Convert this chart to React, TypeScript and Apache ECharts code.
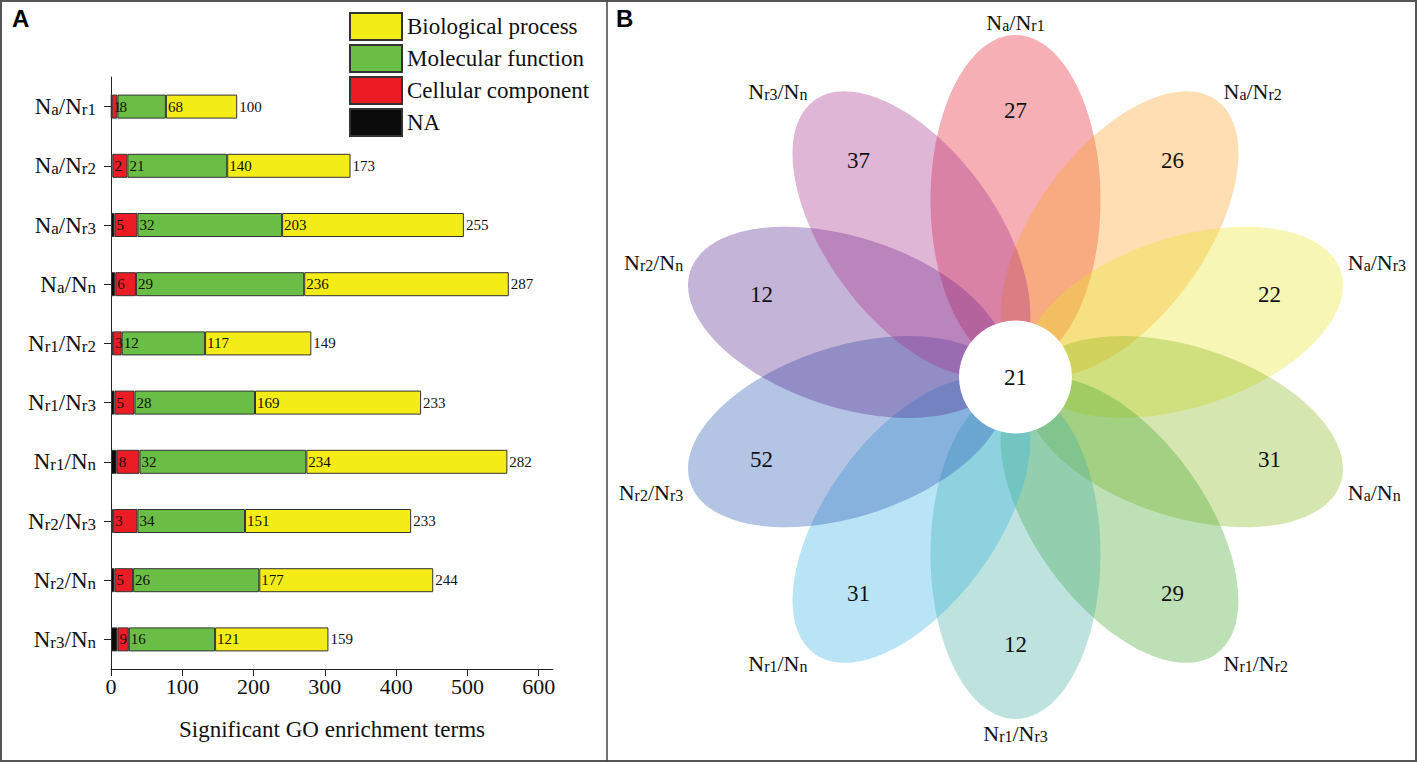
import React, { useEffect, useRef } from 'react';
import * as echarts from 'echarts';

// ---------- Panel A data ----------
const categories = ['Na/Nr1', 'Na/Nr2', 'Na/Nr3', 'Na/Nn', 'Nr1/Nr2', 'Nr1/Nr3', 'Nr1/Nn', 'Nr2/Nr3', 'Nr2/Nn', 'Nr3/Nn'];
const naValues = [1, 2, 5, 6, 3, 5, 8, 3, 5, 9];
const ccValues = [8, 21, 32, 29, 12, 28, 32, 34, 26, 16];
const mfValues = [68, 140, 203, 236, 117, 169, 234, 151, 177, 121];
const bpValues = [100, 173, 255, 287, 149, 233, 282, 233, 244, 159];
const xTickValues = [0, 100, 200, 300, 400, 500, 600];
const legendOrder = ['Biological process', 'Molecular function', 'Cellular component', 'NA'];
const xAxisTitle = 'Significant GO enrichment terms';

// ---------- Panel B data ----------
const petalNames = ['Na/Nr1', 'Na/Nr2', 'Na/Nr3', 'Na/Nn', 'Nr1/Nr2', 'Nr1/Nr3', 'Nr1/Nn', 'Nr2/Nr3', 'Nr2/Nn', 'Nr3/Nn'];
const petalCounts = [27, 26, 22, 31, 29, 12, 31, 52, 12, 37];
const coreCount = 21;
const petalColors = ['#e51a29', '#fca123', '#ebe529', '#8ab81d', '#45a631', '#45afa1', '#37b2e2', '#2956b2', '#56298f', '#a62e8a'];

const SERIF = 'Liberation Serif';
const SANS = 'Liberation Sans';
const INK = '#111';

function richName(s: string): string {
  return s
    .split('/')
    .map((part) => `{b|N}{s|${part.slice(1)}}`)
    .join('{b|/}');
}

function serifRich(size: number) {
  return { t: { fontSize: size, fontFamily: SERIF, color: INK, lineHeight: size } };
}

function buildOption() {
  const segStyle = (color: string) => ({ color, borderColor: '#333', borderWidth: 1 });
  const label = {
    show: true,
    position: 'right' as const,
    distance: 2,
    formatter: (p: any) => `{t|${p.value}}`,
    rich: serifRich(15),
  };
  const seriesDefs = [
    { name: 'NA', data: naValues, color: '#0b0b0b' },
    { name: 'Cellular component', data: ccValues, color: '#ec1c24' },
    { name: 'Molecular function', data: mfValues, color: '#6abd45' },
    { name: 'Biological process', data: bpValues, color: '#f4ec17' },
  ];

  const graphics: any[] = [];

  // frame
  graphics.push({
    type: 'rect',
    silent: true,
    shape: { x: 1, y: 1, width: 1415, height: 760 },
    style: { fill: 'none', stroke: '#555', lineWidth: 2 },
    z: 10,
  });
  graphics.push({
    type: 'line',
    silent: true,
    shape: { x1: 607, y1: 0, x2: 607, y2: 762 },
    style: { stroke: '#444', lineWidth: 1.5 },
    z: 10,
  });
  graphics.push({
    type: 'text',
    x: 12,
    y: 18.5,
    style: { text: 'A', fontSize: 24, fontWeight: 'bold', fontFamily: SANS, fill: '#000', align: 'left', verticalAlign: 'middle' },
  });
  graphics.push({
    type: 'text',
    x: 616,
    y: 18.5,
    style: { text: 'B', fontSize: 24, fontWeight: 'bold', fontFamily: SANS, fill: '#000', align: 'left', verticalAlign: 'middle' },
  });

  // flower
  const cx = 1015.5;
  const cy = 377;
  const dist = 177;
  const semiMajor = 165;
  const semiMinor = 85;
  const n = petalNames.length;
  const labelRich = {
    b: { fontSize: 22, fontFamily: SERIF, fill: INK, lineHeight: 22, verticalAlign: 'bottom' },
    s: { fontSize: 16, fontFamily: SERIF, fill: INK, lineHeight: 16, verticalAlign: 'bottom' },
  };
  petalNames.forEach((name, i) => {
    const th = (i * 2 * Math.PI) / n;
    const ux = Math.sin(th);
    const uy = -Math.cos(th);
    graphics.push({
      type: 'ellipse',
      silent: true,
      x: cx + dist * ux,
      y: cy + dist * uy,
      rotation: -th,
      shape: { cx: 0, cy: 0, rx: semiMinor, ry: semiMajor },
      style: { fill: petalColors[i], opacity: 0.35 },
      z: 1,
    });
  });
  petalNames.forEach((name, i) => {
    const th = (i * 2 * Math.PI) / n;
    const ux = Math.sin(th);
    const uy = -Math.cos(th);
    graphics.push({
      type: 'text',
      silent: true,
      x: cx + 267 * ux,
      y: cy + 267 * uy,
      style: { text: String(petalCounts[i]), fontSize: 23, fontFamily: SERIF, fill: INK, align: 'center', verticalAlign: 'middle' },
      z: 3,
    });
    // petal name placed just beyond the petal tip
    const tipX = cx + (dist + semiMajor) * ux;
    const tipY = cy + (dist + semiMajor) * uy;
    let lx = tipX;
    let ly = tipY;
    let align = 'center';
    if (Math.abs(ux) < 0.2) {
      ly = tipY + (uy < 0 ? -12.5 : 14.5);
    } else {
      align = ux > 0 ? 'left' : 'right';
      lx = tipX + (ux > 0 ? 7 : -7);
      ly = tipY + (uy < 0 ? -8.5 : 10);
    }
    graphics.push({
      type: 'text',
      silent: true,
      x: lx,
      y: ly,
      style: { text: richName(name), rich: labelRich, align, verticalAlign: 'middle' },
      z: 3,
    });
  });
  graphics.push({
    type: 'circle',
    silent: true,
    shape: { cx, cy, r: 56.5 },
    style: { fill: '#fff' },
    z: 2,
  });
  graphics.push({
    type: 'text',
    silent: true,
    x: cx,
    y: cy,
    style: { text: String(coreCount), fontSize: 23, fontFamily: SERIF, fill: INK, align: 'center', verticalAlign: 'middle' },
    z: 3,
  });

  return {
    animation: false,
    backgroundColor: '#fff',
    textStyle: { fontFamily: SERIF },
    legend: {
      data: legendOrder,
      orient: 'vertical',
      left: 349,
      top: 12,
      padding: 0,
      itemWidth: 52,
      itemHeight: 27,
      itemGap: 3,
      icon: 'rect',
      formatter: (name: string) => `{t|${name}}`,
      textStyle: { fontSize: 23, fontFamily: SERIF, color: INK, rich: serifRich(23) },
      selectedMode: false,
    },
    grid: { left: 111, top: 77, width: 442, height: 592, containLabel: false },
    xAxis: {
      type: 'value',
      min: 0,
      max: 620,
      interval: 100,
      splitLine: { show: false },
      axisLine: { show: true, lineStyle: { color: '#222', width: 1 } },
      axisTick: { show: true, length: 7, lineStyle: { color: '#222' }, customValues: xTickValues },
      axisLabel: {
        margin: 6,
        customValues: xTickValues,
        formatter: (v: number) => `{t|${v}}`,
        rich: serifRich(22),
      },
      name: `{t|${xAxisTitle}}`,
      nameLocation: 'middle',
      nameGap: 49,
      nameTextStyle: { fontSize: 23, fontFamily: SERIF, color: INK, rich: serifRich(23) },
    },
    yAxis: {
      type: 'category',
      data: categories,
      inverse: true,
      axisLine: { show: true, lineStyle: { color: '#222', width: 1 } },
      axisTick: { show: true, length: 7, alignWithLabel: true, lineStyle: { color: '#222' } },
      axisLabel: {
        margin: 15,
        formatter: (v: string) => richName(v),
        rich: {
          b: { fontSize: 23, fontFamily: SERIF, color: INK, lineHeight: 23, verticalAlign: 'bottom' },
          s: { fontSize: 17, fontFamily: SERIF, color: INK, lineHeight: 17, verticalAlign: 'bottom' },
        },
      },
    },
    series: seriesDefs.map((s) => ({
      name: s.name,
      type: 'bar',
      stack: 'go',
      barWidth: 24,
      data: s.data,
      itemStyle: segStyle(s.color),
      label,
      emphasis: { disabled: true },
    })),
    graphic: { elements: graphics },
  };
}

export default function App() {
  const ref = useRef<HTMLDivElement>(null);
  useEffect(() => {
    if (!ref.current) return;
    const chart = echarts.init(ref.current, null, { renderer: 'svg' });
    chart.setOption(buildOption() as any);
    return () => chart.dispose();
  }, []);
  return (
    <div
      ref={ref}
      style={{ position: 'absolute', left: 0, top: 0, width: 1417, height: 762, background: '#fff' }}
    />
  );
}
